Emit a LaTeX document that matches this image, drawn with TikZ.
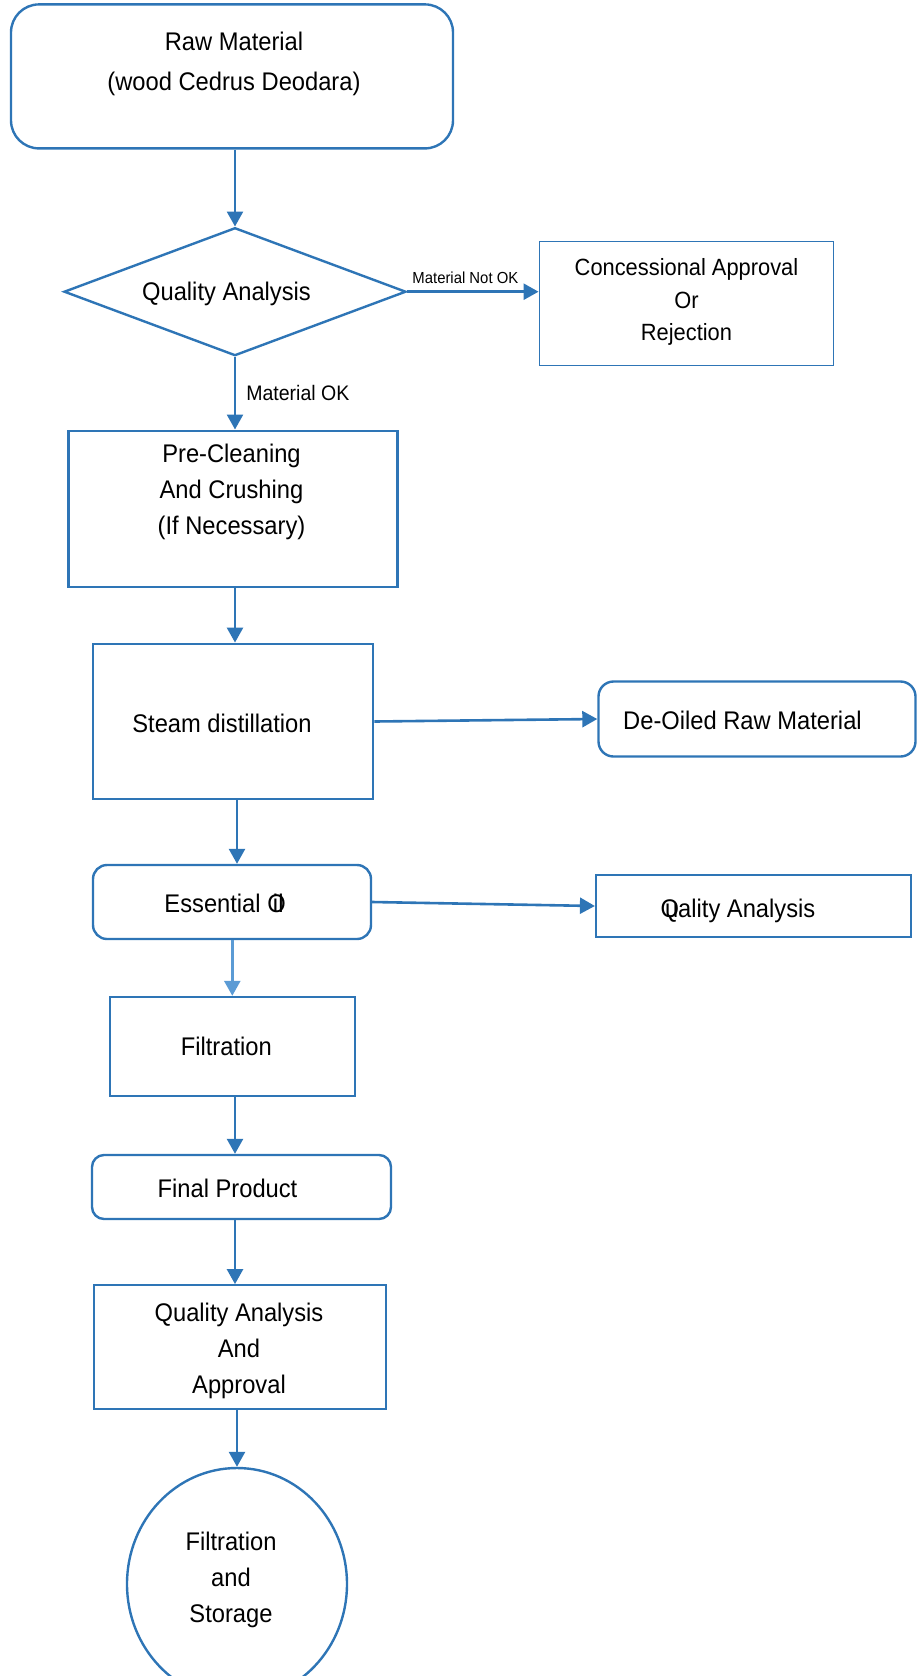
\documentclass[tikz,border=0pt]{standalone}
\usepackage{fontspec}
\setmainfont[FakeStretch=0.93]{Liberation Sans}
\usetikzlibrary{arrows.meta,shapes.geometric}
\definecolor{fblue}{HTML}{2E75B6}
\definecolor{flight}{HTML}{5B9BD5}
\begin{document}
\begin{tikzpicture}[x=1pt,y=-1pt,
  box/.style={draw=fblue, line width=2.4pt, inner sep=0pt, fill=white},
  rbox/.style={box, rounded corners=14pt},
  txt/.style={align=center, inner sep=0pt, text=black, font=\fontsize{25.5}{36}\selectfont},
  small/.style={inner sep=0pt, text=black, font=\fontsize{16}{18}\selectfont},
  mid/.style={inner sep=0pt, text=black, font=\fontsize{21}{22}\selectfont},
  arr/.style={line width=2.6pt, color=fblue, -{Triangle[length=15pt,width=16pt]}}
]
\useasboundingbox (0,0) rectangle (922,1676);

% boxes
\node[rbox, rounded corners=28pt, minimum width=442pt, minimum height=144pt,
      label={[txt, font=\fontsize{25.5}{40}\selectfont, xshift=2pt, yshift=13pt]center:Raw Material\\(wood Cedrus Deodara)}]
      (raw) at (232,76.4) {};
\node[box, diamond, aspect=2.67, minimum width=342pt, minimum height=128pt,
      label={[txt, xshift=-8.5pt, yshift=-2pt]center:Quality Analysis}]
      (diam) at (235,291.7) {};
\node[box, line width=1.9pt, minimum width=294pt, minimum height=124pt,
      label={[txt, font=\fontsize{23.5}{32.5}\selectfont, yshift=1.5pt]center:Concessional Approval\\Or\\Rejection}]
      (conc) at (686.5,303.5) {};
\node[box, line width=2.2pt, minimum width=329pt, minimum height=156pt,
      label={[txt, xshift=-1.5pt, yshift=17pt]center:Pre-Cleaning\\And Crushing\\(If Necessary)}]
      (pre) at (233,508.6) {};
\node[box, line width=2.9pt, minimum width=280pt, minimum height=155pt,
      label={[txt, xshift=-11pt, yshift=-1.5pt]center:Steam distillation}]
      (steam) at (233,721.5) {};
\node[rbox, rounded corners=15pt, minimum width=317pt, minimum height=75pt,
      label={[txt, xshift=-14.5pt, yshift=-1pt]center:De-Oiled Raw Material}]
      (deoil) at (757,719) {};
\node[rbox, minimum width=278pt, minimum height=74pt,
      label={[txt, xshift=-8pt, yshift=-1pt]center:Essential O\kern-0.5em il}]
      (ess) at (232,902) {};
\node[box, minimum width=315pt, minimum height=62pt,
      label={[txt, xshift=-15.6pt, yshift=-5pt]center:Q\kern-0.556em uality Analysis}]
      (qa2) at (753.6,906) {};
\node[box, minimum width=245pt, minimum height=99pt,
      label={[txt, xshift=-6pt]center:Filtration}]
      (filt) at (232.3,1046.5) {};
\node[rbox, rounded corners=12pt, minimum width=299pt, minimum height=64pt,
      label={[txt, xshift=-14pt, yshift=-1pt]center:Final Product}]
      (final) at (241.5,1187) {};
\node[box, line width=1.8pt, minimum width=292pt, minimum height=124pt,
      label={[txt, xshift=-1pt, yshift=-4pt]center:Quality Analysis\\And\\Approval}]
      (qaa) at (240,1347) {};
\node[box, ellipse, minimum width=220pt, minimum height=232pt,
      label={[txt, xshift=-6pt, yshift=4pt]center:Filtration\\and\\Storage}]
      (circ) at (237,1584) {};

% connectors
\draw[arr] (raw.south -| diam.north) -- (diam.north);
\draw[arr] (diam.east) -- (diam.east -| conc.west)
  node[small, midway, above=7pt, xshift=-7.5pt] (nok) {Material Not OK};
\draw[arr] (diam.south) -- (diam.south |- pre.north)
  node[mid, pos=0.5, right=10pt] (ok) {Material OK};
\draw[arr] (pre.south -| diam.south) -- (steam.north -| diam.south);
\draw[arr] (steam.east) -- (deoil.west);
\draw[arr] (steam.south -| circ.north) -- (ess.north -| circ.north);
\draw[arr] (ess.east) -- (qa2.west);
\draw[arr, color=flight] (ess.south -| filt.north) -- (filt.north);
\draw[arr] (filt.south -| diam.south) -- (final.north -| diam.south);
\draw[arr] (final.south -| diam.south) -- (qaa.north -| diam.south);
\draw[arr] (qaa.south -| circ.north) -- (circ.north);
\end{tikzpicture}
\end{document}
